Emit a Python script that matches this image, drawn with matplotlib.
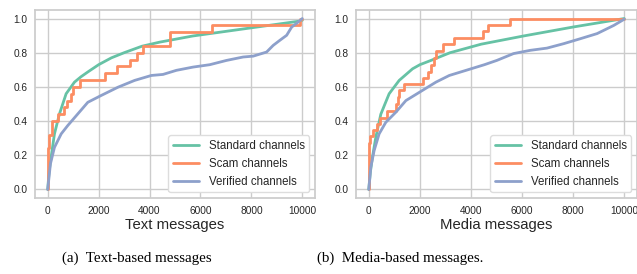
import matplotlib
matplotlib.use('Agg')
import matplotlib.pyplot as plt
import seaborn as sns


sns.set_theme(style='whitegrid', palette='Set2')
plt.rcParams['font.family'] = ['Liberation Sans', 'DejaVu Sans']

COLORS = sns.color_palette('Set2', 3)

# --- (a) текстовые сообщения ---
text_std_x = [0, 50, 134, 264, 461, 723, 1051, 1312, 1600, 2000, 2500, 3000,
              3700, 4400, 5700, 7000, 8300, 9900, 10000]
text_std_y = [0.0, 0.10, 0.19, 0.325, 0.442, 0.56, 0.628, 0.66, 0.69, 0.73,
              0.77, 0.80, 0.838, 0.862, 0.898, 0.925, 0.952, 0.985, 0.99]

text_scam_x = [0, 20, 60, 150, 400, 657, 760, 900, 985, 1280, 2250, 2740,
               3215, 3500, 3730, 4816, 6457, 9900, 10000]
text_scam_y = [0.0, 0.24, 0.32, 0.40, 0.44, 0.48, 0.52, 0.56, 0.60, 0.64,
               0.68, 0.72, 0.76, 0.80, 0.84, 0.92, 0.96, 1.0, 1.0]

text_ver_x = [0, 106, 264, 528, 787, 1181, 1575, 2102, 2756, 3413, 4071,
              4528, 5055, 5709, 6366, 7024, 7677, 8071, 8598, 8858, 9122,
              9386, 9583, 9843, 10000]
text_ver_y = [0.0, 0.15, 0.246, 0.325, 0.374, 0.442, 0.51, 0.55, 0.598,
              0.638, 0.667, 0.673, 0.697, 0.716, 0.73, 0.755, 0.775, 0.78,
              0.804, 0.843, 0.873, 0.902, 0.95, 0.98, 1.0]

# --- (b) медиа сообщения ---
media_std_x = [0, 60, 145, 275, 471, 628, 798, 1190, 1715, 2002, 2434, 3180,
               4400, 6058, 8021, 10000]
media_std_y = [0.0, 0.10, 0.19, 0.305, 0.44, 0.498, 0.56, 0.638, 0.706,
               0.73, 0.755, 0.80, 0.85, 0.898, 0.951, 1.0]

media_scam_x = [0, 20, 60, 150, 340, 420, 733, 1060, 1150, 1200, 1360, 2132,
                2300, 2450, 2560, 2650, 2917, 3350, 4480, 4686, 5536, 10000]
media_scam_y = [0.0, 0.27, 0.31, 0.35, 0.385, 0.42, 0.46, 0.50, 0.54, 0.58,
                0.615, 0.655, 0.69, 0.73, 0.77, 0.81, 0.85, 0.885, 0.925,
                0.965, 1.0, 1.0]

media_ver_x = [0, 79, 209, 405, 667, 1060, 1453, 2107, 2630, 3153, 3808,
               4527, 5013, 5667, 6321, 6976, 7630, 8282, 8939, 9593, 10000]
media_ver_y = [0.0, 0.13, 0.227, 0.325, 0.393, 0.452, 0.52, 0.58, 0.628,
               0.667, 0.697, 0.73, 0.755, 0.795, 0.814, 0.827, 0.853, 0.882,
               0.912, 0.96, 0.996]

labels = ['Standard channels', 'Scam channels', 'Verified channels']
xlabels = ['Text messages', 'Media messages']
captions = ['(a)  Text-based messages', '(b)  Media-based messages.']


def draw(axis, std, scam, ver, xlabel):
    axis.plot(std[0], std[1], color=COLORS[0], lw=2, label=labels[0])
    axis.step(scam[0], scam[1], where='post', color=COLORS[1], lw=2,
              label=labels[1])
    axis.plot(ver[0], ver[1], color=COLORS[2], lw=2, label=labels[2])
    axis.set_xlim(-500, 10500)
    axis.set_ylim(-0.05, 1.05)
    axis.set_xticks([0, 2000, 4000, 6000, 8000, 10000])
    axis.set_yticks([0.0, 0.2, 0.4, 0.6, 0.8, 1.0])
    axis.set_yticklabels(['0.0', '0.2', '0.4', '0.6', '0.8', '1.0'])
    axis.tick_params(labelsize=7.3, length=0, pad=5.5, colors='#262626')
    axis.set_xlabel(xlabel, fontsize=10.7, labelpad=2, color='#262626')
    for spine in axis.spines.values():
        spine.set_color('#cccccc')
        spine.set_linewidth(1.25)
    axis.grid(color='#cccccc', linewidth=1)
    axis.legend(loc='lower right', fontsize=8.3, handlelength=2.3,
                framealpha=1, edgecolor='#dddddd')


fig = plt.figure(figsize=(6.37, 2.74), dpi=100)
ax1 = fig.add_axes([35 / 637, 76 / 274, 280 / 637, 188 / 274])
ax2 = fig.add_axes([356 / 637, 76 / 274, 281 / 637, 188 / 274])

draw(ax1, (text_std_x, text_std_y), (text_scam_x, text_scam_y),
     (text_ver_x, text_ver_y), xlabels[0])
draw(ax2, (media_std_x, media_std_y), (media_scam_x, media_scam_y),
     (media_ver_x, media_ver_y), xlabels[1])

fig.text(136.5 / 637, 1 - 262 / 274, captions[0], ha='center', va='baseline',
         fontsize=10.8, family=['Liberation Serif', 'DejaVu Serif'],
         color='black')
fig.text(400 / 637, 1 - 262 / 274, captions[1], ha='center', va='baseline',
         fontsize=10.8, family=['Liberation Serif', 'DejaVu Serif'],
         color='black')

fig.savefig('out.png', dpi=100)
